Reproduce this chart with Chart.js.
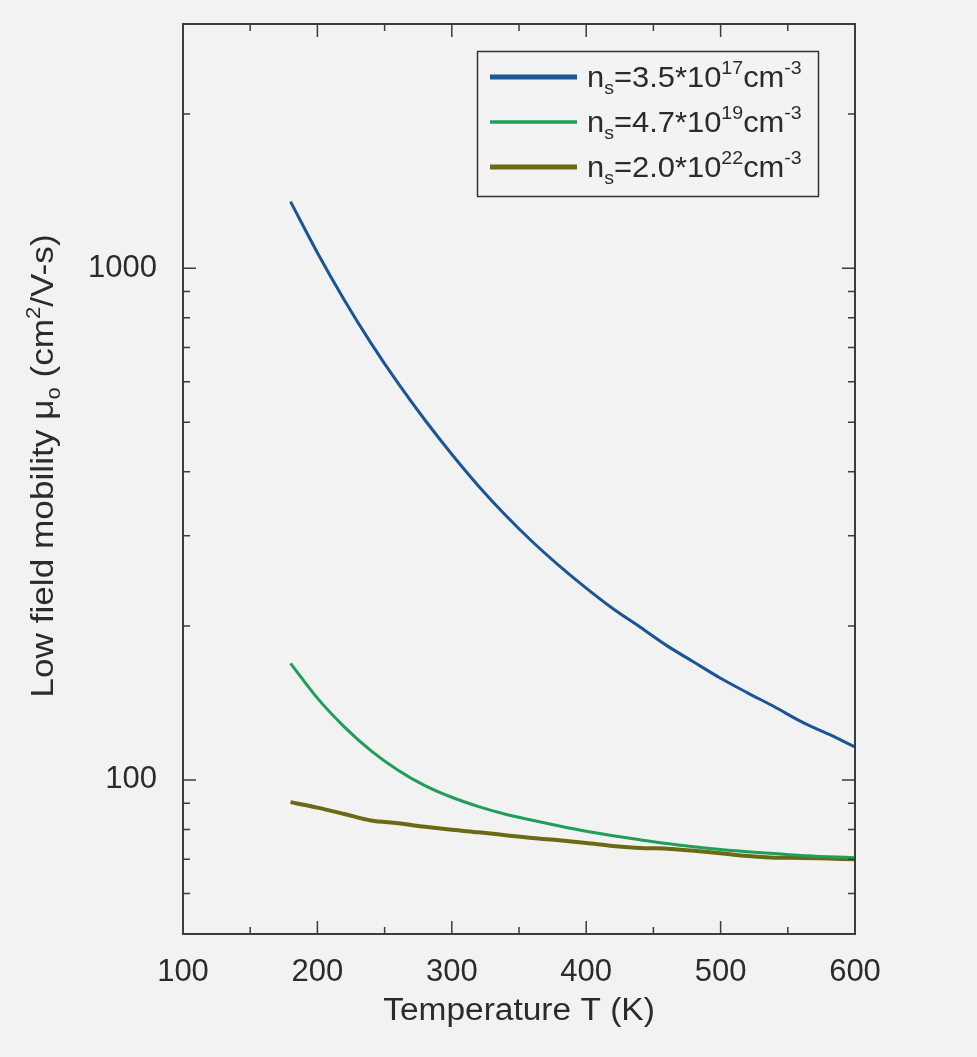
<!DOCTYPE html>
<html>
<head>
<meta charset="utf-8">
<script src="https://cdn.jsdelivr.net/npm/chart.js@4.4.1/dist/chart.umd.min.js"></script>
<style>
  html, body { margin: 0; padding: 0; background: #f2f2f2; }
  canvas { display: block; }
</style>
</head>
<body>
<canvas id="mobilityChart" width="977" height="1057"></canvas>
<script>
// temperature (K)
const temperature = [180, 200, 220, 240, 260, 280, 300, 320, 340, 360, 380,
                     400, 420, 440, 460, 480, 500, 520, 540, 560, 580, 600];

// low field mobility (cm2/V-s) for the three sheet densities
const mobilityLow = [1349, 1072, 867, 713, 596, 505, 433, 375, 329, 292, 262,
                     237, 216, 199, 183, 170, 158, 148, 139, 130, 123, 116];
const mobilityMid = [169, 144.5, 127, 114, 104.5, 97.5, 92.5, 88.7, 85.7, 83.4, 81.3,
                     79.4, 77.8, 76.4, 75.1, 74.0, 73.1, 72.4, 71.8, 71.2, 70.8, 70.5];
const mobilityHigh = [90.5, 88.3, 85.8, 83.3, 82.3, 81.0, 79.9, 79.0, 78.0, 77.0, 76.2,
                      75.3, 74.3, 73.6, 73.4, 72.7, 71.9, 71.0, 70.5, 70.4, 70.2, 70.0];

// legend: [base, subscript, "=mantissa*10", exponent]
const seriesNames = [
    ['n', 's', '=3.5*10', '17'],
    ['n', 's', '=4.7*10', '19'],
    ['n', 's', '=2.0*10', '22']
];
const seriesColors = ['#1a5596', '#1f9e58', '#6a6a14'];

// axes
const xTicks = [100, 150, 200, 250, 300, 350, 400, 450, 500, 550, 600];
const xTickLabels = [100, 200, 300, 400, 500, 600];
const yTicks = [50, 60, 70, 80, 90, 100, 200, 300, 400, 500, 600, 700, 800, 900, 1000, 2000, 3000];
const yTickLabels = [100, 1000];

const FONT = "'Liberation Sans', Arial, sans-serif";
const TEXT = '#2b2b2b';
const AXIS = '#3c3c3c';

// draws text pieces with sub/superscripts; parts = [[text, mode]] (mode 1 sup, -1 sub)
function richText(ctx, parts, x, y, size, align, stretch) {
    const small = Math.round(size * 0.62);
    let w = 0;
    parts.forEach(p => {
        ctx.font = (p[1] ? small : size) + 'px ' + FONT;
        w += ctx.measureText(p[0]).width;
    });
    ctx.save();
    ctx.translate(x, y);
    ctx.scale(stretch || 1, 1);
    let cx = align === 'center' ? -w / 2 : 0;
    ctx.textBaseline = 'alphabetic';
    ctx.textAlign = 'left';
    parts.forEach(p => {
        ctx.font = (p[1] ? small : size) + 'px ' + FONT;
        const dy = p[1] === 1 ? -size * 0.42 : (p[1] === -1 ? size * 0.22 : 0);
        ctx.fillText(p[0], cx, dy);
        cx += ctx.measureText(p[0]).width;
    });
    ctx.restore();
}

const decorations = {
    id: 'decorations',
    afterDraw(chart) {
        const { ctx, chartArea: a, scales: { x, y } } = chart;
        ctx.save();

        // box
        ctx.strokeStyle = AXIS;
        ctx.lineWidth = 2;
        ctx.strokeRect(a.left, a.top, a.right - a.left, a.bottom - a.top);

        // inward ticks on all four sides
        ctx.lineWidth = 1.5;
        ctx.beginPath();
        x.ticks.forEach(t => {
            const px = x.getPixelForValue(t.value);
            const len = xTickLabels.includes(t.value) ? 13 : 7;
            ctx.moveTo(px, a.bottom); ctx.lineTo(px, a.bottom - len);
            ctx.moveTo(px, a.top); ctx.lineTo(px, a.top + len);
        });
        y.ticks.forEach(t => {
            const py = y.getPixelForValue(t.value);
            const len = yTickLabels.includes(t.value) ? 13 : 7;
            ctx.moveTo(a.left, py); ctx.lineTo(a.left + len, py);
            ctx.moveTo(a.right, py); ctx.lineTo(a.right - len, py);
        });
        ctx.stroke();

        // axis titles
        ctx.fillStyle = TEXT;
        richText(ctx, [['Temperature T (K)', 0]], (a.left + a.right) / 2, 1020, 31, 'center', 1.08);
        ctx.save();
        ctx.translate(53, 466);
        ctx.rotate(-Math.PI / 2);
        richText(ctx, [['Low field mobility \u03bc', 0], ['o', -1], [' (cm', 0], ['2', 1], ['/V-s)', 0]],
                 0, 0, 32, 'center', 1.1);
        ctx.restore();

        // legend
        const lx = 477.5, ly = 51.5, lw = 341, lh = 145;
        ctx.fillStyle = '#f3f3f3';
        ctx.fillRect(lx, ly, lw, lh);
        ctx.strokeStyle = '#333';
        ctx.lineWidth = 1.5;
        ctx.strokeRect(lx, ly, lw, lh);
        const widths = [5, 3.5, 5];
        chart.data.datasets.forEach((ds, i) => {
            const rowY = 77 + i * 45;
            ctx.strokeStyle = ds.borderColor;
            ctx.lineWidth = widths[i];
            ctx.beginPath();
            ctx.moveTo(490, rowY);
            ctx.lineTo(577, rowY);
            ctx.stroke();
            const n = seriesNames[i];
            ctx.fillStyle = TEXT;
            richText(ctx, [[n[0], 0], [n[1], -1], [n[2], 0], [n[3], 1], ['cm', 0], ['-3', 1]],
                     587, rowY + 10, 30, 'left', 1.03);
        });
        ctx.restore();
    }
};

const ctx = document.getElementById('mobilityChart').getContext('2d');

new Chart(ctx, {
    type: 'line',
    data: {
        datasets: [
            { data: mobilityLow, borderColor: seriesColors[0], borderWidth: 3 },
            { data: mobilityMid, borderColor: seriesColors[1], borderWidth: 3 },
            { data: mobilityHigh, borderColor: seriesColors[2], borderWidth: 4 }
        ].map(ds => Object.assign(ds, {
            data: ds.data.map((v, i) => ({ x: temperature[i], y: v })),
            pointRadius: 0,
            fill: false,
            cubicInterpolationMode: 'monotone'
        }))
    },
    options: {
        responsive: false,
        animation: false,
        layout: { padding: { top: 24, right: 122, left: 0, bottom: 0 } },
        plugins: {
            legend: { display: false },
            tooltip: { enabled: false }
        },
        scales: {
            x: {
                type: 'linear',
                min: 100,
                max: 600,
                afterFit: s => { s.height = 123; },
                afterBuildTicks: s => { s.ticks = xTicks.map(v => ({ value: v })); },
                grid: { display: false, drawTicks: false },
                border: { display: false },
                ticks: {
                    autoSkip: false,
                    maxRotation: 0,
                    padding: 20,
                    color: TEXT,
                    font: { family: FONT, size: 31 },
                    callback: v => xTickLabels.includes(v) ? String(v) : ''
                }
            },
            y: {
                type: 'logarithmic',
                min: 50,
                max: 3000,
                afterFit: s => { s.width = 183; s.paddingTop = 0; s.paddingBottom = 0; },
                afterBuildTicks: s => { s.ticks = yTicks.map(v => ({ value: v })); },
                grid: { display: false, drawTicks: false },
                border: { display: false },
                ticks: {
                    autoSkip: false,
                    padding: 26,
                    color: TEXT,
                    font: { family: FONT, size: 31 },
                    callback: v => yTickLabels.includes(v) ? String(v) : ''
                }
            }
        }
    },
    plugins: [decorations]
});
</script>
</body>
</html>
